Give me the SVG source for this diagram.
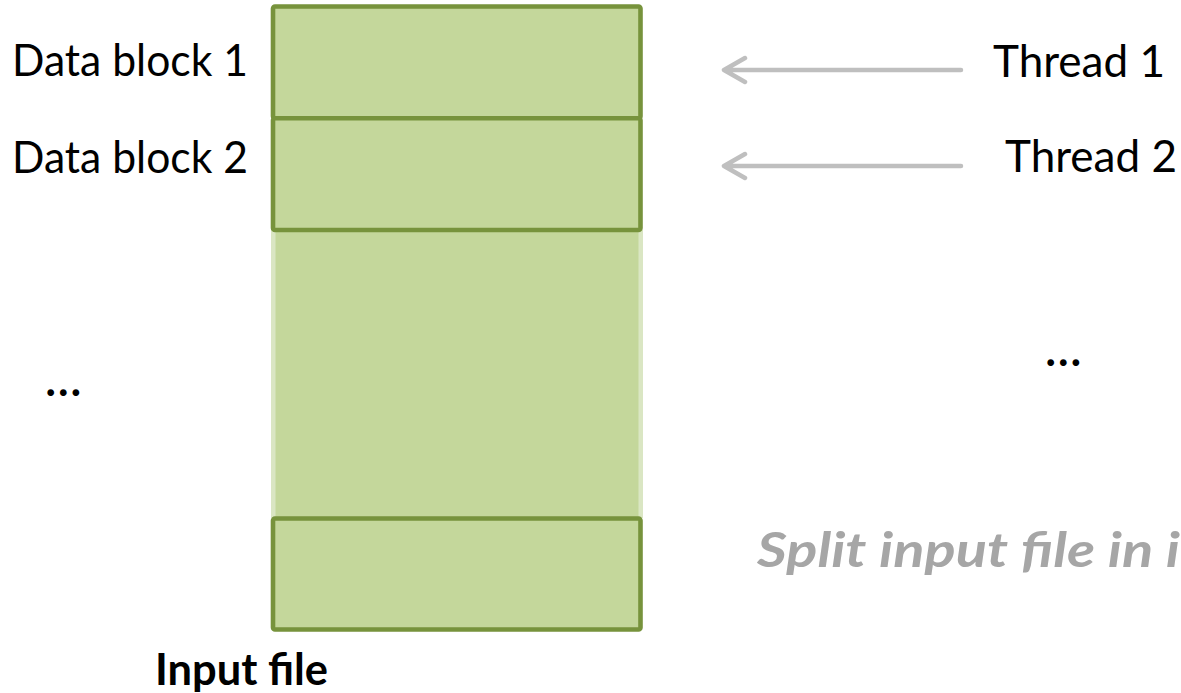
<svg xmlns="http://www.w3.org/2000/svg" width="1181" height="693" viewBox="0 0 1181 693">
  <style>
    .block { fill: #c4d79b; stroke: #77933c; stroke-width: 4.6; stroke-linejoin: round; }
    .lbl { font-family: Lato, "Open Sans", "Liberation Sans", sans-serif; font-size: 44px; fill: #000; }
    .bold { font-weight: bold; }
    .dots { font-family: Lato, "Open Sans", "Liberation Sans", sans-serif; font-size: 48px; font-weight: 600; fill: #000; }
    .note { font-family: Lato, "Open Sans", "Liberation Sans", sans-serif; font-size: 47px; font-weight: bold; font-style: italic; fill: #a6a6a6; }
    .arrow { fill: none; stroke: #bfbfbf; stroke-width: 4.5; stroke-linecap: round; stroke-linejoin: round; }
  </style>
  <rect width="1181" height="693" fill="#ffffff"/>

  <!-- unbordered middle part of the file -->
  <g id="file-body">
    <rect x="271" y="230" width="372" height="288" fill="#dae6c3"/>
    <rect x="275.5" y="230" width="363" height="288" fill="#c4d79b"/>
  </g>

  <g id="block-1">
    <rect class="block" x="273" y="6.5" width="367.5" height="111.8" rx="2"/>
  </g>
  <g id="block-2">
    <rect class="block" x="273" y="118.3" width="367.5" height="111.7" rx="2"/>
  </g>
  <g id="block-last">
    <rect class="block" x="273" y="518.5" width="367.5" height="111" rx="2"/>
  </g>

  <g id="labels-left">
    <text class="lbl" x="12" y="76" textLength="236" lengthAdjust="spacingAndGlyphs">Data block 1</text>
    <text class="lbl" x="12" y="173" textLength="236" lengthAdjust="spacingAndGlyphs">Data block 2</text>
    <text class="dots" x="45" y="396">…</text>
  </g>

  <g id="thread-1">
    <text class="lbl" x="993" y="77" textLength="172" lengthAdjust="spacingAndGlyphs">Thread 1</text>
  </g>
  <g id="thread-2">
    <text class="lbl" x="1005" y="172" textLength="172" lengthAdjust="spacingAndGlyphs">Thread 2</text>
  </g>
  <g id="thread-more">
    <text class="dots" x="1045" y="366">…</text>
  </g>

  <g id="connectors">
    <path class="arrow" d="M961,70 L724,70 M745,58 L724,70 L745,82"/>
    <path class="arrow" d="M961,166 L724,166 M745,154 L724,166 L745,178"/>
  </g>

  <g id="captions">
    <text class="lbl bold" x="155" y="685" textLength="173" lengthAdjust="spacingAndGlyphs">Input file</text>
    <text class="note" x="757" y="567" textLength="423" lengthAdjust="spacingAndGlyphs">Split input file in i</text>
  </g>
</svg>
